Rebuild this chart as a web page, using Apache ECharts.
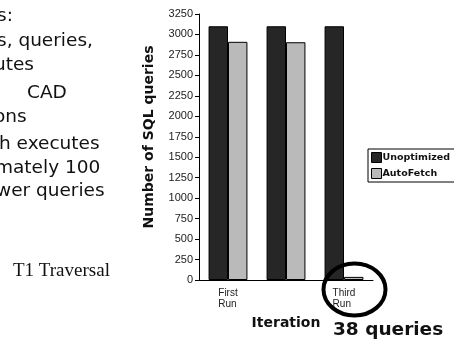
<!DOCTYPE html>
<html><head><meta charset="utf-8">
<script src="https://cdn.jsdelivr.net/npm/echarts@6/dist/echarts.min.js"></script>
<style>html,body{margin:0;padding:0;background:#fff}#c{width:454px;height:339px}</style>
</head><body><div id="c"></div>
<script>
const categories = ['First\nRun', 'Second\nRun', 'Third\nRun'];
const unoptimized = [3100, 3100, 3100];
const autoFetch = [2910, 2905, 38];
const seriesNames = ['Unoptimized', 'AutoFetch'];
const yTicks = {min: 0, max: 3250, interval: 250};
const slideLines = ['s:', 's, queries,', 'utes', 'CAD', 'ons', 'h executes', 'mately 100', 'wer queries'];
const slideX = [-3, -3, -6, 27, -6, -1, -5, -4];
const slideBaselines = [26, 51, 75, 103, 127, 154, 178, 201];
const captionText = 'T1 Traversal';
const calloutText = '38 queries';

const chart = echarts.init(document.getElementById('c'), null, {renderer: 'canvas'});
const graphics = slideLines.map((t, i) => ({
  type: 'text', left: slideX[i], top: slideBaselines[i] - 19,
  style: {text: t, font: '18.5px "DejaVu Sans"', fill: '#111'}
}));
graphics.push({type: 'text', left: 13, top: 262, style: {text: captionText, font: '19px "Liberation Serif"', fill: '#111'}});
graphics.push({type: 'text', left: 333, top: 321, style: {text: calloutText, font: 'bold 18.5px "DejaVu Sans"', fill: '#111'}});
graphics.push({type: 'ellipse', shape: {cx: 354.5, cy: 289.5, rx: 31, ry: 26}, style: {fill: 'none', stroke: '#000', lineWidth: 4}, z: 100});

chart.setOption({
  animation: false,
  textStyle: {fontFamily: '"Liberation Sans", Arial, sans-serif'},
  grid: {left: 199, right: 81, top: 14, bottom: 59},
  legend: {
    orient: 'vertical', left: 368, top: 149, itemWidth: 10, itemHeight: 10, itemGap: 5, icon: 'rect',
    padding: [3, 20, 3, 3], borderColor: '#000', borderWidth: 1, itemStyle: {borderColor: '#000', borderWidth: 1},
    textStyle: {fontFamily: '"DejaVu Sans"', fontWeight: 'bold', fontSize: 9.5, color: '#111', padding: [0, 0, 0, -4]},
    data: seriesNames
  },
  xAxis: {
    type: 'category', data: categories,
    name: 'Iteration', nameLocation: 'middle', nameGap: 36,
    nameTextStyle: {fontFamily: '"DejaVu Sans"', fontWeight: 'bold', fontSize: 14, color: '#111'},
    axisLine: {lineStyle: {color: '#000', width: 1}},
    axisTick: {length: 4, lineStyle: {color: '#000'}},
    axisLabel: {
      margin: 8, fontSize: 10, color: '#222', lineHeight: 11,
      formatter: v => v.split('\n').map(s => '{l|' + s + '}').join('\n'),
      rich: {l: {align: 'left', fontSize: 10, lineHeight: 11, color: '#222'}}
    }
  },
  yAxis: {
    type: 'value', min: yTicks.min, max: yTicks.max, interval: yTicks.interval,
    name: 'Number of SQL queries', nameLocation: 'middle', nameGap: 43, nameRotate: 90,
    nameTextStyle: {fontFamily: '"DejaVu Sans"', fontWeight: 'bold', fontSize: 14, color: '#111', padding: [0, 0, 0, 20]},
    axisLine: {show: true, lineStyle: {color: '#000', width: 1}},
    axisTick: {show: true, length: 4, lineStyle: {color: '#000'}},
    splitLine: {show: false},
    axisLabel: {margin: 6, fontSize: 11, color: '#222', formatter: v => String(v)}
  },
  series: [
    {name: seriesNames[0], type: 'bar', data: unoptimized, barGap: '0%', barCategoryGap: '33%',
     itemStyle: {color: '#262626', borderColor: '#000', borderWidth: 1}},
    {name: seriesNames[1], type: 'bar', data: autoFetch,
     itemStyle: {color: '#bababa', borderColor: '#000', borderWidth: 1}}
  ],
  graphic: graphics
});
</script></body></html>
